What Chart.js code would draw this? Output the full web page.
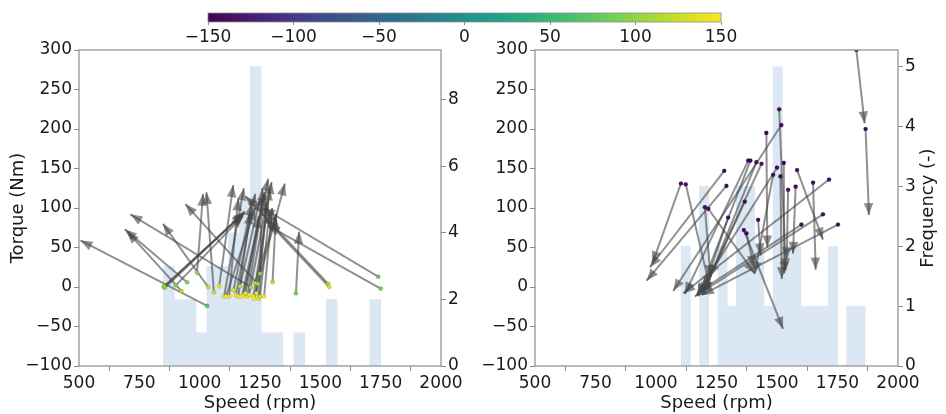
<!DOCTYPE html>
<html>
<head>
<meta charset="utf-8">
<script src="https://cdn.jsdelivr.net/npm/chart.js@4.4.0/dist/chart.umd.min.js"></script>
<style>
  html, body { margin: 0; padding: 0; background: #fff; }
  #wrap { position: relative; width: 946px; height: 414px; overflow: hidden; }
  canvas { position: absolute; top: 0; }
</style>
</head>
<body>
<div id="wrap">
  <canvas id="left" width="473" height="414" style="left:0"></canvas>
  <canvas id="right" width="473" height="414" style="left:473px"></canvas>
  <canvas id="cbar" width="946" height="45" style="left:0"></canvas>
</div>
<script>
// ticks
const speedTicks = [500, 750, 1000, 1250, 1500, 1750, 2000];
const torqueTicks = [-100, -50, 0, 50, 100, 150, 200, 250, 300];
const leftFreqTicks = [0, 2, 4, 6, 8];
const rightFreqTicks = [0, 1, 2, 3, 4, 5];
const colorTicks = [-150, -100, -50, 0, 50, 100, 150];

// histograms (bin centre in rpm, count)
const leftBinCenters = [872.5, 917.5, 962.5, 1007.5, 1052.5, 1097.5, 1142.5, 1187.5, 1232.5, 1277.5,
                        1322.5, 1367.5, 1412.5, 1457.5, 1502.5, 1547.5, 1592.5, 1637.5, 1682.5, 1727.5];
const leftBinCounts = [3, 2, 2, 1, 3, 3, 4, 5, 9, 1, 1, 0, 1, 0, 0, 2, 0, 0, 0, 2];
const rightBinCenters = [1123, 1161, 1199, 1237, 1275, 1313, 1351, 1389, 1427, 1465,
                         1503, 1541, 1579, 1617, 1655, 1693, 1731, 1769, 1807, 1845];
const rightBinCounts = [2, 0, 3, 0, 2, 1, 3, 3, 2, 1, 5, 2, 2, 1, 1, 1, 2, 0, 1, 1];

// left panel arrows: start (speed, torque) -> end (speed, torque), colour value
const leftFromSpeed = [1031, 851, 856, 901, 948, 1035, 989, 1059, 924, 1081,
                       1101, 1122, 1150, 1167, 1182, 1198, 1212, 1223, 1225, 1240,
                       1244, 1250, 1229, 1250, 1302, 1399, 1533, 1537, 1740, 1750,
                       1109, 1160, 1190, 1267, 853, 1175, 1205, 1235, 1140];
const leftFromTorque = [-24, 0, -1, 2, 6, 0, 18, -7, -5, 1,
                        -12, -12, -10, 1, -10, -12, 0, -12, -15, 4,
                        -15, -12, 5, 17, 6, -8, 4, 0, 13, -2,
                        -12, -12, -8, -12, 1, -12, -10, -8, -4];
const leftToSpeed = [506, 1183, 1188, 1180, 690, 848, 1014, 1028, 700, 1139,
                     1183, 1160, 1230, 1250, 1284, 1265, 713, 1298, 1353, 941,
                     1275, 1290, 1319, 1260, 1315, 1412, 1190, 1275, 1262, 1282,
                     1230, 1210, 1245, 1300, 1186, 1270, 1280, 1290, 1215];
const leftToTorque = [59, 93, 96, 90, 73, 80, 118, 120, 70, 129,
                      125, 112, 118, 112, 137, 118, 92, 133, 131, 105,
                      105, 95, 93, 125, 88, 70, 115, 85, 100, 78,
                      100, 95, 90, 100, 94, 120, 110, 125, 105];
const leftValue = [70, 95, 105, 90, 95, 120, 100, 130, 115, 140,
                   150, 145, 140, 120, 150, 145, 110, 150, 150, 120,
                   140, 130, 110, 100, 120, 90, 120, 130, 80, 85,
                   150, 150, 140, 150, 100, 150, 145, 140, 130];

// right panel arrows
const rightFromSpeed = [1828, 1866, 1509, 1518, 1456, 1381, 1390, 1415, 1436, 1528,
                        1500, 1484, 1514, 1583, 1282, 1291, 1103, 1123, 1202, 1216,
                        1298, 1367, 1363, 1374, 1422, 1546, 1577, 1649, 1715, 1690,
                        1752, 1601];
const rightFromTorque = [300, 200, 225, 205, 195, 160, 160, 158, 156, 157,
                         151, 142, 140, 148, 147, 128, 131, 130, 101, 99,
                         88, 108, 72, 68, 85, 123, 127, 132, 136, 92,
                         79, 79];
const rightToSpeed = [1862, 1880, 1536, 1071, 1460, 1119, 1174, 1195, 1222, 1530,
                      1168, 1408, 1520, 1690, 975, 961, 985, 1222, 1225, 1408,
                      1190, 1196, 1525, 1405, 1432, 1540, 1566, 1660, 1113, 1160,
                      1190, 1178];
const rightToTorque = [207, 91, 21, -5, 50, -9, -12, -8, 13, 17,
                       -10, 17, 10, 60, 25, 8, 30, 0, 13, 17,
                       -10, -6, -53, 25, 40, 35, 42, 22, -8, -12,
                       -10, -6];
const rightValue = [-140, -145, -140, -140, -145, -140, -145, -140, -140, -145,
                    -140, -140, -140, -140, -140, -140, -140, -140, -140, -140,
                    -140, -140, -140, -145, -140, -140, -140, -140, -140, -140,
                    -140, -140];

const FONT = "'DejaVu Sans', sans-serif";
const INK = '#1a1a1a';
const FRAME = '#8c8c8c';
const ARROW = 'rgba(70,70,70,0.6)';

// viridis stops
const viridis = [[68,1,84],[72,36,117],[65,68,135],[53,95,141],[42,120,142],[33,145,140],
                 [34,168,132],[68,191,112],[122,209,81],[189,223,38],[253,231,37]];
function cmap(v) {
  let t = Math.max(0, Math.min(1, (v + 150) / 300));
  const f = t * 10, i = Math.min(9, Math.floor(f)), r = f - i;
  const a = viridis[i], b = viridis[i + 1];
  return 'rgb(' + a.map((c, k) => Math.round(c + (b[k] - c) * r)).join(',') + ')';
}
const minus = v => v < 0 ? '\u2212' + Math.abs(v) : String(v);
const fixTicks = arr => s => { s.ticks = arr.map(v => ({ value: v })); };

const arrowHeads = {
  id: 'arrowHeads',
  afterDatasetDraw(chart, args) {
    const ds = chart.data.datasets[args.index];
    if (!ds.arrow) return;
    const [a, b] = args.meta.data;
    const ang = Math.atan2(b.y - a.y, b.x - a.x);
    const ctx = chart.ctx;
    ctx.save();
    ctx.translate(b.x, b.y);
    ctx.rotate(ang);
    ctx.beginPath();
    ctx.moveTo(0, 0);
    ctx.lineTo(-12, 4.8);
    ctx.lineTo(-12, -4.8);
    ctx.closePath();
    ctx.fillStyle = ds.borderColor;
    ctx.fill();
    ctx.restore();
  }
};

const frame = {
  id: 'frame',
  afterDraw(chart) {
    const { left, top, right, bottom } = chart.chartArea;
    const ctx = chart.ctx;
    ctx.save();
    ctx.strokeStyle = FRAME;
    ctx.lineWidth = 1.2;
    ctx.strokeRect(left, top, right - left, bottom - top);
    if (chart.options.plugins.rightTitle) {
      ctx.translate(right + 30, (top + bottom) / 2);
      ctx.rotate(-Math.PI / 2);
      ctx.font = '18px ' + FONT;
      ctx.fillStyle = INK;
      ctx.textAlign = 'center';
      ctx.textBaseline = 'middle';
      ctx.fillText(chart.options.plugins.rightTitle, 0, 0);
    }
    ctx.restore();
  }
};

function axisBase() {
  return {
    type: 'linear',
    offset: false,
    border: { display: false },
    grid: { display: true, drawOnChartArea: false, drawTicks: true, tickLength: 5, color: FRAME },
    ticks: { font: { family: FONT, size: 17 }, color: INK, padding: 2, maxRotation: 0, autoSkip: false, callback: minus }
  };
}

function panel(id, d) {
  const datasets = [];
  datasets.push({
    type: 'bar',
    data: d.binCenters.map((x, i) => ({ x, y: d.binCounts[i] })),
    yAxisID: 'y2',
    backgroundColor: '#dbe7f3',
    borderWidth: 0,
    barPercentage: 1,
    categoryPercentage: 1,
    order: 3
  });
  d.fromS.forEach((s, i) => {
    datasets.push({
      type: 'line',
      arrow: true,
      data: [{ x: s, y: d.fromT[i] }, { x: d.toS[i], y: d.toT[i] }],
      yAxisID: 'y',
      borderColor: ARROW,
      borderWidth: 2,
      pointRadius: 0,
      fill: false,
      order: 2
    });
  });
  datasets.push({
    type: 'scatter',
    data: d.fromS.map((s, i) => ({ x: s, y: d.fromT[i] })),
    yAxisID: 'y',
    pointRadius: 2.1,
    pointBackgroundColor: d.vals.map(cmap),
    pointBorderColor: 'rgba(0,0,0,0.3)',
    pointBorderWidth: 0.4,
    order: 1
  });

  const x = axisBase();
  Object.assign(x, {
    min: 500, max: 2000,
    afterBuildTicks: fixTicks(speedTicks),
    afterFit: s => { s.height = 48; },
    title: { display: true, text: 'Speed (rpm)', font: { family: FONT, size: 18 }, color: INK, padding: { top: 0, bottom: 0 } }
  });
  const y = axisBase();
  Object.assign(y, {
    position: 'left', min: -100, max: 300,
    afterBuildTicks: fixTicks(torqueTicks),
    afterFit: s => { s.width = d.leftWidth; },
    title: { display: !!d.yTitle, text: d.yTitle || '', font: { family: FONT, size: 18 }, color: INK, padding: { top: 8, bottom: 0 } }
  });
  const y2 = axisBase();
  Object.assign(y2, {
    position: 'right', min: 0, max: d.freqMax,
    afterBuildTicks: fixTicks(d.freqTicks),
    afterFit: s => { s.width = d.rightWidth; }
  });

  return new Chart(document.getElementById(id), {
    type: 'line',
    data: { datasets },
    options: {
      responsive: false,
      animation: false,
      devicePixelRatio: 1,
      layout: { padding: { top: 50, left: 0, right: 0, bottom: 0 } },
      plugins: { legend: { display: false }, tooltip: { enabled: false }, rightTitle: d.rightTitle },
      scales: { x, y, y2 }
    },
    plugins: [arrowHeads, frame]
  });
}

panel('left', {
  binCenters: leftBinCenters, binCounts: leftBinCounts,
  fromS: leftFromSpeed, fromT: leftFromTorque, toS: leftToSpeed, toT: leftToTorque, vals: leftValue,
  freqMax: 9.5, freqTicks: leftFreqTicks, leftWidth: 79, rightWidth: 32, yTitle: 'Torque (Nm)'
});
panel('right', {
  binCenters: rightBinCenters, binCounts: rightBinCounts,
  fromS: rightFromSpeed, fromT: rightFromTorque, toS: rightToSpeed, toT: rightToTorque, vals: rightValue,
  freqMax: 5.28, freqTicks: rightFreqTicks, leftWidth: 62, rightWidth: 48, rightTitle: 'Frequency (-)'
});

// colour bar
const cbarFill = {
  id: 'cbarFill',
  beforeDraw(chart) {
    const { left, top, right, bottom } = chart.chartArea;
    const sx = chart.scales.x;
    const ctx = chart.ctx;
    const g = ctx.createLinearGradient(sx.getPixelForValue(colorTicks[0]), 0, sx.getPixelForValue(colorTicks[colorTicks.length - 1]), 0);
    viridis.forEach((c, i) => g.addColorStop(i / (viridis.length - 1), 'rgb(' + c.join(',') + ')'));
    ctx.save();
    ctx.fillStyle = g;
    ctx.fillRect(left, top, right - left, bottom - top);
    ctx.strokeStyle = FRAME;
    ctx.lineWidth = 0.8;
    ctx.strokeRect(left, top, right - left, bottom - top);
    ctx.restore();
  }
};
const cx = axisBase();
Object.assign(cx, {
  min: -150, max: 150,
  afterBuildTicks: fixTicks(colorTicks),
  afterFit: s => { s.height = 23; }
});
cx.grid.tickLength = 3;
new Chart(document.getElementById('cbar'), {
  type: 'scatter',
  data: { datasets: [] },
  options: {
    responsive: false,
    animation: false,
    devicePixelRatio: 1,
    layout: { padding: { left: 208, right: 225, top: 13, bottom: 0 } },
    plugins: { legend: { display: false }, tooltip: { enabled: false } },
    scales: { x: cx, y: { display: false } }
  },
  plugins: [cbarFill]
});
</script>
</body>
</html>
